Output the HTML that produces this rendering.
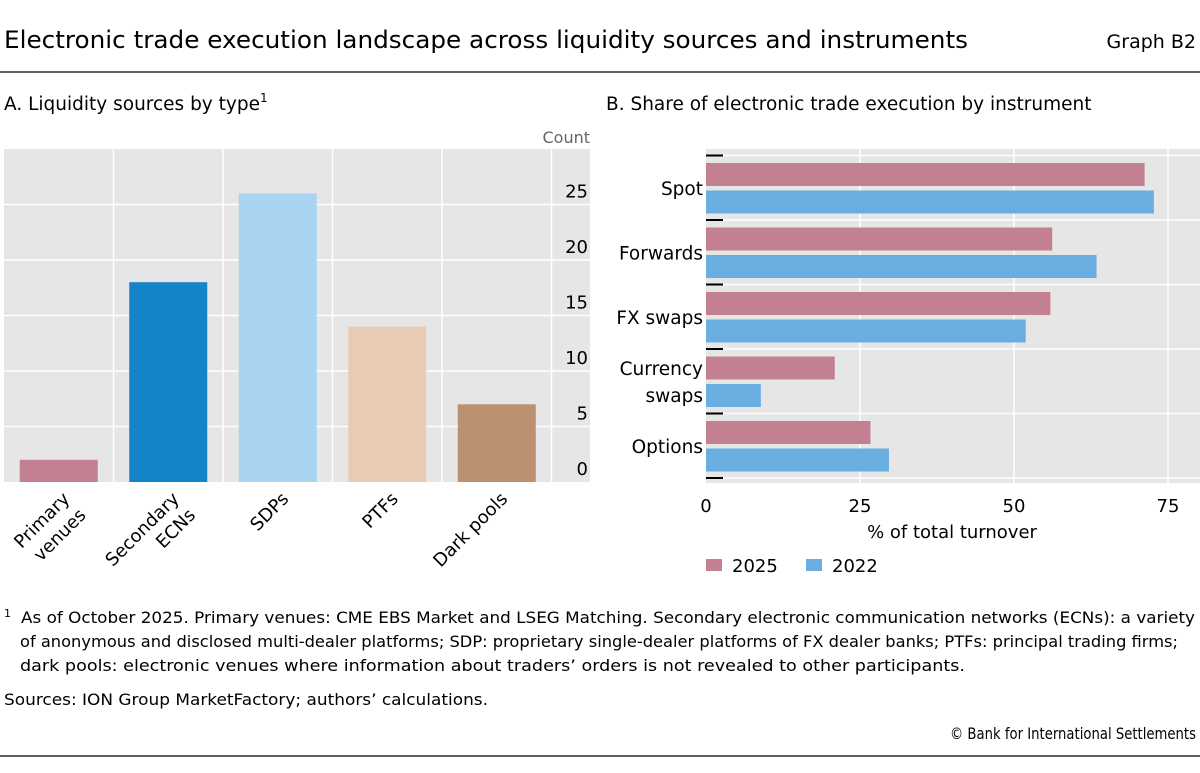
<!DOCTYPE html>
<html><head><meta charset="utf-8"><style>
body{margin:0;background:#fff;}
svg{display:block;font-family:"DejaVu Sans","Liberation Sans",sans-serif;}
</style></head><body>
<svg id="s" width="1200" height="773" viewBox="0 0 1200 773" xmlns="http://www.w3.org/2000/svg">
<text x="4" y="48" font-size="24" fill="#000" textLength="964" lengthAdjust="spacingAndGlyphs">Electronic trade execution landscape across liquidity sources and instruments</text>
<text x="1196" y="48" font-size="19" text-anchor="end" fill="#000">Graph B2</text>
<line x1="0" y1="72" x2="1200" y2="72" stroke="#000" stroke-width="1.2"/>
<text x="4" y="110" font-size="18.5">A. Liquidity sources by type<tspan font-size="12" dy="-8">1</tspan></text>
<text x="606" y="110" font-size="18.5">B. Share of electronic trade execution by instrument</text>
<text x="590" y="143" font-size="16" fill="#666" text-anchor="end">Count</text>
<g id="pa"></g>
<g id="pb"></g>
<text x="952" y="538" font-size="18" text-anchor="middle">% of total turnover</text>
<g>
<rect x="706" y="559" width="16" height="12" fill="#c28090"/>
<text x="732" y="572" font-size="18">2025</text>
<rect x="806" y="559" width="16" height="12" fill="#6aade0"/>
<text x="832" y="572" font-size="18">2022</text>
</g>
<g font-size="16">
<text x="4" y="623"><tspan font-size="11" dy="-6">1</tspan><tspan dx="10" dy="6" textLength="1174" lengthAdjust="spacingAndGlyphs">As of October 2025. Primary venues: CME EBS Market and LSEG Matching. Secondary electronic communication networks (ECNs): a variety</tspan></text>
<text x="20" y="647" textLength="1158" lengthAdjust="spacingAndGlyphs">of anonymous and disclosed multi-dealer platforms; SDP: proprietary single-dealer platforms of FX dealer banks; PTFs: principal trading firms;</text>
<text x="20" y="671" textLength="945" lengthAdjust="spacingAndGlyphs">dark pools: electronic venues where information about traders’ orders is not revealed to other participants.</text>
<text x="4" y="705" textLength="484" lengthAdjust="spacingAndGlyphs">Sources: ION Group MarketFactory; authors’ calculations.</text>
<text x="1196" y="739" text-anchor="end" textLength="246" lengthAdjust="spacingAndGlyphs">© Bank for International Settlements</text>
</g>
<line x1="0" y1="756" x2="1200" y2="756" stroke="#000" stroke-width="1.2"/>
</svg>
<script>
const aCats=["Primary venues","Secondary ECNs","SDPs","PTFs","Dark pools"];
const aLabels=[["Primary","venues"],["Secondary","ECNs"],["SDPs"],["PTFs"],["Dark pools"]];
const aVals=[2,18,26,14,7];
const aColors=["#c28090","#1684c8","#a8d4f2","#e8cbb2","#bc9171"];
const aTicks=[0,5,10,15,20,25];
const bCats=["Spot","Forwards","FX swaps","Currency swaps","Options"];
const bLabels=[["Spot"],["Forwards"],["FX swaps"],["Currency","swaps"],["Options"]];
const b2025=[71.2,56.2,55.9,20.9,26.7];
const b2022=[72.7,63.4,51.9,8.9,29.7];
const bTicks=[0,25,50,75];
const NS="http://www.w3.org/2000/svg";
function mk(p,t,a){const e=document.createElementNS(NS,t);for(const k in a)e.setAttribute(k,a[k]);p.appendChild(e);return e;}
// Panel A
const pa=document.getElementById('pa');
const ay=v=>482-v*11.1, slot=109.5, ax0=4;
const bgA=mk(pa,'rect',{x:4,y:149,width:586,height:333,fill:'#e6e6e6'});


for(let i=1;i<=5;i++){const l=mk(pa,'line',{x1:ax0+i*slot,x2:ax0+i*slot,y1:149,y2:482,stroke:'#fff','stroke-width':1.5});
 
 }
aTicks.forEach(t=>{
 if(t>0){const l=mk(pa,'line',{x1:4,x2:590,y1:ay(t),y2:ay(t),stroke:'#fff','stroke-width':1.5});
 
 }
 const tx=mk(pa,'text',{x:588,y:ay(t)-7,'font-size':18,'text-anchor':'end'});tx.textContent=t;
 
 
});
aVals.forEach((v,i)=>{
 const cx=ax0+slot*(i+0.5);
 const r=mk(pa,'rect',{x:cx-39,y:ay(v),width:78,height:482-ay(v),fill:aColors[i]});
 
 
 const g=mk(pa,'g',{transform:`translate(${cx+2},${490}) rotate(-45)`});
 
 
 aLabels[i].forEach((s,j)=>{const t=mk(g,'text',{x:0,y:j*23+14,'font-size':18,'text-anchor':'end'});t.textContent=s;});
});
// Panel B
const pb=document.getElementById('pb');
const bx=v=>706+v*6.16, rowH=64.5, by0=155.5;
const bgB=mk(pb,'rect',{x:706,y:149,width:494,height:334,fill:'#e6e6e6'});


bTicks.forEach(t=>{
 if(t>0){const l=mk(pb,'line',{x1:bx(t),x2:bx(t),y1:149,y2:483,stroke:'#fff','stroke-width':1.5});
 
 }
 const tx=mk(pb,'text',{x:bx(t),y:512,'font-size':18,'text-anchor':'middle'});tx.textContent=t;
 
 
});
for(let i=0;i<=5;i++){const y=by0+i*rowH;
 const l=mk(pb,'line',{x1:706,x2:1200,y1:y,y2:y,stroke:'#fff','stroke-width':1.5});
 
 
 const tk=mk(pb,'line',{x1:706,x2:723,y1:y,y2:y,stroke:'#000','stroke-width':2});
 
 }
bCats.forEach((c,i)=>{
 const y=by0+i*rowH;
 const r1=mk(pb,'rect',{x:706,y:y+7.5,width:bx(b2025[i])-706,height:23,fill:'#c28090'});
 
 
 const r2=mk(pb,'rect',{x:706,y:y+35,width:bx(b2022[i])-706,height:23,fill:'#6aade0'});
 
 
 const lines=bLabels[i];
 lines.forEach((s,j)=>{
  const t=mk(pb,'text',{x:703,y:y+rowH/2+7+(j-(lines.length-1)/2)*27,'font-size':18.5,'text-anchor':'end'});
  t.textContent=s;
  
  
 });
});
</script>
</body></html>
